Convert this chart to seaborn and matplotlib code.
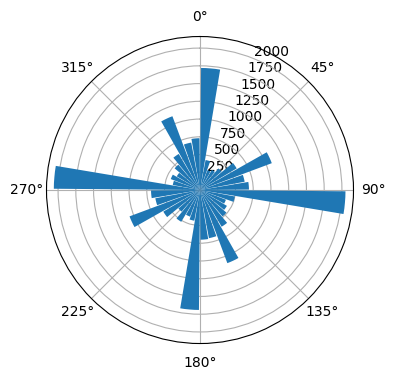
import numpy as np
import matplotlib
matplotlib.use("Agg")
import matplotlib.pyplot as plt
import seaborn as sns

# Direction bins (degrees, bin centers) and counts
bin_centers_deg = [5, 15, 25, 35, 45, 55, 65, 75, 85,
                   95, 105, 115, 125, 135, 145, 155, 165, 175,
                   185, 195, 205, 215, 225, 235, 245, 255, 265,
                   275, 285, 295, 305, 315, 325, 335, 345, 355]
counts = [1720, 430, 300, 330, 400, 600, 1080, 640, 690,
          2050, 500, 390, 440, 490, 600, 1100, 690, 700,
          1690, 440, 400, 520, 400, 600, 1060, 640, 690,
          2060, 390, 440, 380, 470, 590, 1110, 680, 730]

color = sns.color_palette()[0]

fig = plt.figure(figsize=(3.96, 3.8), dpi=100)
ax = fig.add_axes([0.1174, 0.096, 0.7753, 0.8079], projection="polar")
ax.set_theta_zero_location("N")
ax.set_theta_direction(-1)

theta = np.deg2rad(bin_centers_deg)
width = np.deg2rad(10) * 0.9
ax.bar(theta, counts, width=width, color=color, align="center")
ax.set_axisbelow(True)

fig.savefig("out.png", dpi=100)
